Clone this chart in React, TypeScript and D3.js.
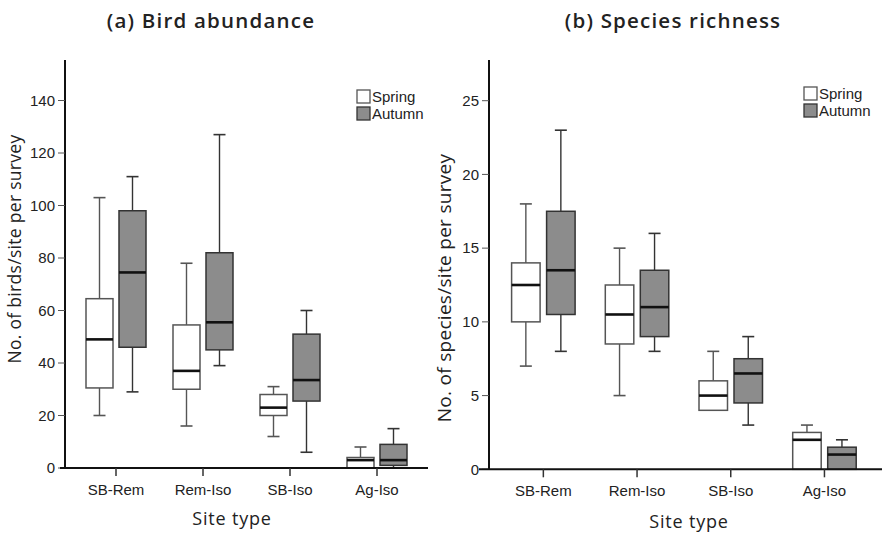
import * as d3 from 'd3';

// box stats per site type: [min, q1, median, q3, max]
const categories = ['SB-Rem', 'Rem-Iso', 'SB-Iso', 'Ag-Iso'];

const abundanceSpring = [
  [20, 30.5, 49, 64.5, 103],
  [16, 30, 37, 54.5, 78],
  [12, 20, 23, 28, 31],
  [0, 0, 3, 4, 8],
];
const abundanceAutumn = [
  [29, 46, 74.5, 98, 111],
  [39, 45, 55.5, 82, 127],
  [6, 25.5, 33.5, 51, 60],
  [0, 1, 3, 9, 15],
];
const richnessSpring = [
  [7, 10, 12.5, 14, 18],
  [5, 8.5, 10.5, 12.5, 15],
  [4, 4, 5, 6, 8],
  [0, 0, 2, 2.5, 3],
];
const richnessAutumn = [
  [8, 10.5, 13.5, 17.5, 23],
  [8, 9, 11, 13.5, 16],
  [3, 4.5, 6.5, 7.5, 9],
  [0, 0, 1, 1.5, 2],
];

const abundanceTicks = [0, 20, 40, 60, 80, 100, 120, 140];
const richnessTicks = [0, 5, 10, 15, 20, 25];

const seasons = ['Spring', 'Autumn'];

const tickFont = '"Liberation Sans", Arial, sans-serif';
const titleFont = '"Open Sans", sans-serif';

type Panel = {
  title: string;
  yTitle: string;
  spring: number[][];
  autumn: number[][];
  ticks: number[];
  yAxisX: number;
  yRange: [number, number];
  yTop: number;
  xRange: [number, number];
  xLine: [number, number];
  offset: number;
  boxW: number;
  titleX: number;
  yTitleX: number;
  yTitleY: number;
  yTitleSize: number;
  siteX: number;
  siteY: number;
  legendX: number;
  legendY: number;
};

function BoxPanel({ p }: { p: Panel }) {
  const y = d3.scaleLinear().domain([0, p.ticks[p.ticks.length - 1]]).range(p.yRange);
  const x = d3.scaleBand<string>().domain(categories).range(p.xRange);
  const y0 = y(0);

  const drawBox = (s: number[], cx: number, fill: string, stroke: string, key: string) => {
    const [mn, q1, md, q3, mx] = s;
    const cap = 12;
    return (
      <g key={key}>
        <line x1={cx} x2={cx} y1={y(q3)} y2={y(mx)} stroke={stroke} strokeWidth={1.4} />
        <line x1={cx} x2={cx} y1={y(q1)} y2={y(mn)} stroke={stroke} strokeWidth={1.4} />
        {mx > q3 && <line x1={cx - cap / 2} x2={cx + cap / 2} y1={y(mx)} y2={y(mx)} stroke={stroke} strokeWidth={1.6} />}
        {mn < q1 && <line x1={cx - cap / 2} x2={cx + cap / 2} y1={y(mn)} y2={y(mn)} stroke={stroke} strokeWidth={1.6} />}
        <rect
          x={cx - p.boxW / 2}
          y={y(q3)}
          width={p.boxW}
          height={Math.max(y(q1) - y(q3), 0.5)}
          fill={fill}
          stroke={stroke}
          strokeWidth={1.5}
        />
        <line x1={cx - p.boxW / 2} x2={cx + p.boxW / 2} y1={y(md)} y2={y(md)} stroke="#111" strokeWidth={2.6} />
      </g>
    );
  };

  return (
    <g>
      <text
        x={p.titleX}
        y={28}
        textAnchor="middle"
        fontFamily={titleFont}
        fontWeight={600}
        fontSize={20.5}
        letterSpacing={1.2}
        fill="#222"
      >
        {p.title}
      </text>

      {/* boxes */}
      {categories.map((c, i) => {
        const cx = (x(c) ?? 0) + x.bandwidth() / 2;
        return (
          <g key={c}>
            {drawBox(p.spring[i], cx - p.offset, '#fff', '#555', 's' + i)}
            {drawBox(p.autumn[i], cx + p.offset, '#8c8c8c', '#333', 'a' + i)}
          </g>
        );
      })}

      {/* y axis */}
      <line x1={p.yAxisX} x2={p.yAxisX} y1={p.yTop} y2={y0} stroke="#111" strokeWidth={2} />
      {p.ticks.map((t) => (
        <g key={t}>
          <line x1={p.yAxisX - 7} x2={p.yAxisX} y1={y(t)} y2={y(t)} stroke="#555" strokeWidth={1} />
          <text
            x={p.yAxisX - 10}
            y={y(t)}
            dy="0.35em"
            textAnchor="end"
            fontFamily={tickFont}
            fontSize={15}
            fill="#222"
          >
            {t}
          </text>
        </g>
      ))}

      {/* x axis */}
      <line x1={p.xLine[0]} x2={p.xLine[1]} y1={y0} y2={y0} stroke="#111" strokeWidth={2} />
      {categories.map((c) => {
        const cx = (x(c) ?? 0) + x.bandwidth() / 2;
        return (
          <g key={c}>
            <line x1={cx} x2={cx} y1={y0} y2={y0 + 8} stroke="#333" strokeWidth={1.5} />
            <text x={cx} y={y0 + 27} textAnchor="middle" fontFamily={tickFont} fontSize={15} fill="#222">
              {c}
            </text>
          </g>
        );
      })}

      <text
        x={p.siteX}
        y={p.siteY}
        textAnchor="middle"
        fontFamily={titleFont}
        fontSize={18}
        letterSpacing={0.8}
        fill="#222"
      >
        Site type
      </text>
      <text
        transform={`translate(${p.yTitleX},${p.yTitleY}) rotate(-90)`}
        textAnchor="middle"
        fontFamily={titleFont}
        fontSize={p.yTitleSize}
        letterSpacing={0.3}
        fill="#222"
      >
        {p.yTitle}
      </text>

      {/* legend */}
      {seasons.map((s, i) => (
        <g key={s} transform={`translate(${p.legendX},${p.legendY + i * 17})`}>
          <rect
            x={0}
            y={0}
            width={13}
            height={13}
            fill={i === 0 ? '#fff' : '#8c8c8c'}
            stroke={i === 0 ? '#555' : '#333'}
            strokeWidth={1.3}
          />
          <text x={15} y={12} fontFamily={tickFont} fontSize={15} fill="#222">
            {s}
          </text>
        </g>
      ))}
    </g>
  );
}

const panels: Panel[] = [
  {
    title: '(a) Bird abundance',
    yTitle: 'No. of birds/site per survey',
    spring: abundanceSpring,
    autumn: abundanceAutumn,
    ticks: abundanceTicks,
    yAxisX: 65,
    yRange: [468, 100.5],
    yTop: 60,
    xRange: [72.5, 420.5],
    xLine: [60, 428],
    offset: 16.5,
    boxW: 27,
    titleX: 211,
    yTitleX: 21,
    yTitleY: 249,
    yTitleSize: 17.5,
    siteX: 232,
    siteY: 525,
    legendX: 357,
    legendY: 90,
  },
  {
    title: '(b) Species richness',
    yTitle: 'No. of species/site per survey',
    spring: richnessSpring,
    autumn: richnessAutumn,
    ticks: richnessTicks,
    yAxisX: 489,
    yRange: [469.3, 100.7],
    yTop: 60,
    xRange: [496.5, 871.3],
    xLine: [479, 882],
    offset: 17.5,
    boxW: 28.5,
    titleX: 673,
    yTitleX: 451,
    yTitleY: 288,
    yTitleSize: 19,
    siteX: 689,
    siteY: 528,
    legendX: 804,
    legendY: 87,
  },
];

export default function App() {
  return (
    <svg
      width={882}
      height={534}
      style={{ position: 'absolute', left: 0, top: 0, background: '#fff' }}
    >
      <rect width={882} height={534} fill="#fff" />
      {panels.map((p) => (
        <BoxPanel key={p.title} p={p} />
      ))}
    </svg>
  );
}
